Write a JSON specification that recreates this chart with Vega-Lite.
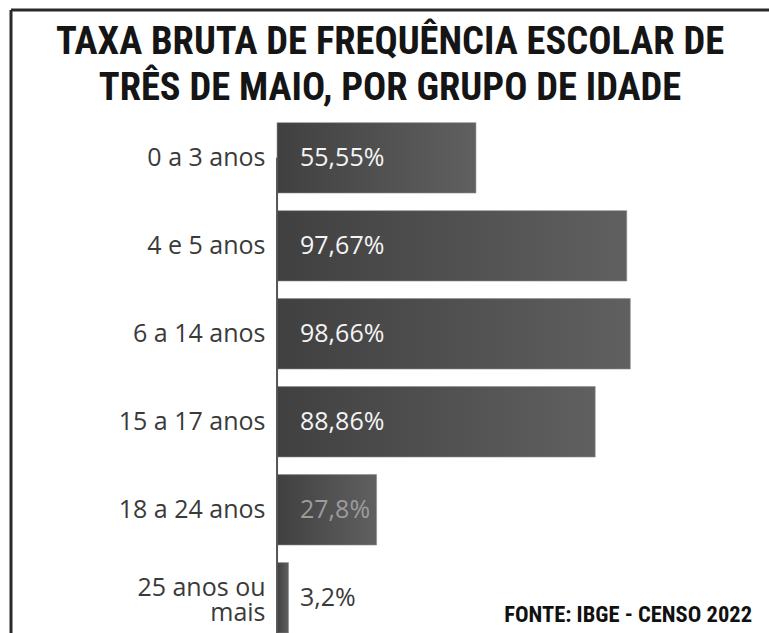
{
  "$schema": "https://vega.github.io/schema/vega-lite/v6.json",
  "width": 758,
  "height": 623,
  "autosize": {"type": "none"},
  "padding": {"left": 11, "top": 10, "right": 0, "bottom": 0},
  "background": "white",
  "config": {"view": {"stroke": null}},
  "title": {
    "text": ["TAXA BRUTA DE FREQUÊNCIA ESCOLAR DE", "TRÊS DE MAIO,  POR GRUPO DE IDADE"],
    "font": "Roboto Condensed, DejaVu Sans Condensed",
    "fontWeight": "bold",
    "fontSize": 38.5,
    "lineHeight": 46,
    "color": "#151515",
    "anchor": "middle",
    "frame": "group",
    "baseline": "alphabetic",
    "offset": -93,
    "dy": 37
  },
  "data": {
    "values": [
      {"grupo": "0 a 3 anos", "taxa": 55.55, "rotulo": "55,55%"},
      {"grupo": "4 e 5 anos", "taxa": 97.67, "rotulo": "97,67%"},
      {"grupo": "6 a 14 anos", "taxa": 98.66, "rotulo": "98,66%"},
      {"grupo": "15 a 17 anos", "taxa": 88.86, "rotulo": "88,86%"},
      {"grupo": "18 a 24 anos", "taxa": 27.8, "rotulo": "27,8%"},
      {"grupo": "25 anos ou mais", "taxa": 3.2, "rotulo": "3,2%"}
    ]
  },
  "layer": [
    {
      "layer": [
        {
          "mark": {
            "type": "bar",
            "color": {
              "gradient": "linear",
              "x1": 0, "y1": 0, "x2": 1, "y2": 0,
              "stops": [
                {"offset": 0, "color": "#404040"},
                {"offset": 1, "color": "#606060"}
              ]
            },
            "stroke": "#8a8a8a",
            "strokeWidth": 1,
            "strokeOpacity": 0.6
          },
          "encoding": {
            "y": {
              "field": "grupo",
              "type": "nominal",
              "sort": null,
              "scale": {"paddingInner": 0.2, "paddingOuter": 0.64, "align": 1},
              "axis": {
                "title": null,
                "domain": false,
                "ticks": false,
                "offset": -266,
                "labelPadding": 12,
                "labelFont": "Open Sans",
                "labelFontSize": 25,
                "labelColor": "#3a3a3a",
                "labelLimit": 0,
                "labelLineHeight": 25,
                "labelOffset": {"condition": {"test": "datum.value == '25 anos ou mais'", "value": -10}, "value": 0},
                "labelExpr": "datum.label == '25 anos ou mais' ? ['25 anos ou', 'mais'] : datum.label"
              }
            },
            "x": {
              "field": "taxa",
              "type": "quantitative",
              "scale": {"domain": [-74.3, 137.4], "nice": false, "zero": false},
              "axis": null
            },
            "x2": {"datum": 0}
          }
        },
        {
          "mark": {
            "type": "text",
            "align": "left",
            "baseline": "middle",
            "dx": 23,
            "font": "Open Sans",
            "fontSize": 25
          },
          "encoding": {
            "y": {"field": "grupo", "type": "nominal", "sort": null},
            "x": {"datum": 0},
            "text": {"field": "rotulo"},
            "color": {
              "condition": [
                {"test": "datum.taxa < 5", "value": "#3a3a3a"},
                {"test": "datum.taxa < 30", "value": "#9c9c9c"}
              ],
              "value": "#f4f4f4"
            }
          }
        },
        {
          "data": {"values": [{}]},
          "mark": {"type": "rule", "color": "#555555", "strokeWidth": 2},
          "encoding": {
            "x": {"datum": 0},
            "y": {"datum": "25 anos ou mais", "type": "nominal", "bandPosition": 1},
            "y2": {"datum": "0 a 3 anos"}
          }
        },
        {
          "data": {"values": [{}]},
          "mark": {
            "type": "text",
            "align": "right",
            "baseline": "alphabetic",
            "dx": -17,
            "dy": 24,
            "font": "Roboto Condensed, DejaVu Sans Condensed",
            "fontWeight": "bold",
            "fontSize": 22.5,
            "color": "#111111"
          },
          "encoding": {
            "x": {"datum": 137.4},
            "y": {"datum": "25 anos ou mais", "type": "nominal"},
            "text": {"value": "FONTE: IBGE - CENSO 2022"}
          }
        }
      ]
    },
    {
      "data": {"values": [{}]},
      "layer": [
        {
          "mark": {"type": "rule", "color": "#2a2a2a", "strokeWidth": 3},
          "encoding": {
            "y": {"datum": 1, "type": "quantitative", "scale": {"domain": [0, 1]}, "axis": null}
          }
        },
        {
          "mark": {"type": "rule", "color": "#2a2a2a", "strokeWidth": 3},
          "encoding": {"x": {"datum": -74.3}}
        }
      ]
    }
  ],
  "resolve": {"scale": {"y": "independent"}}
}
